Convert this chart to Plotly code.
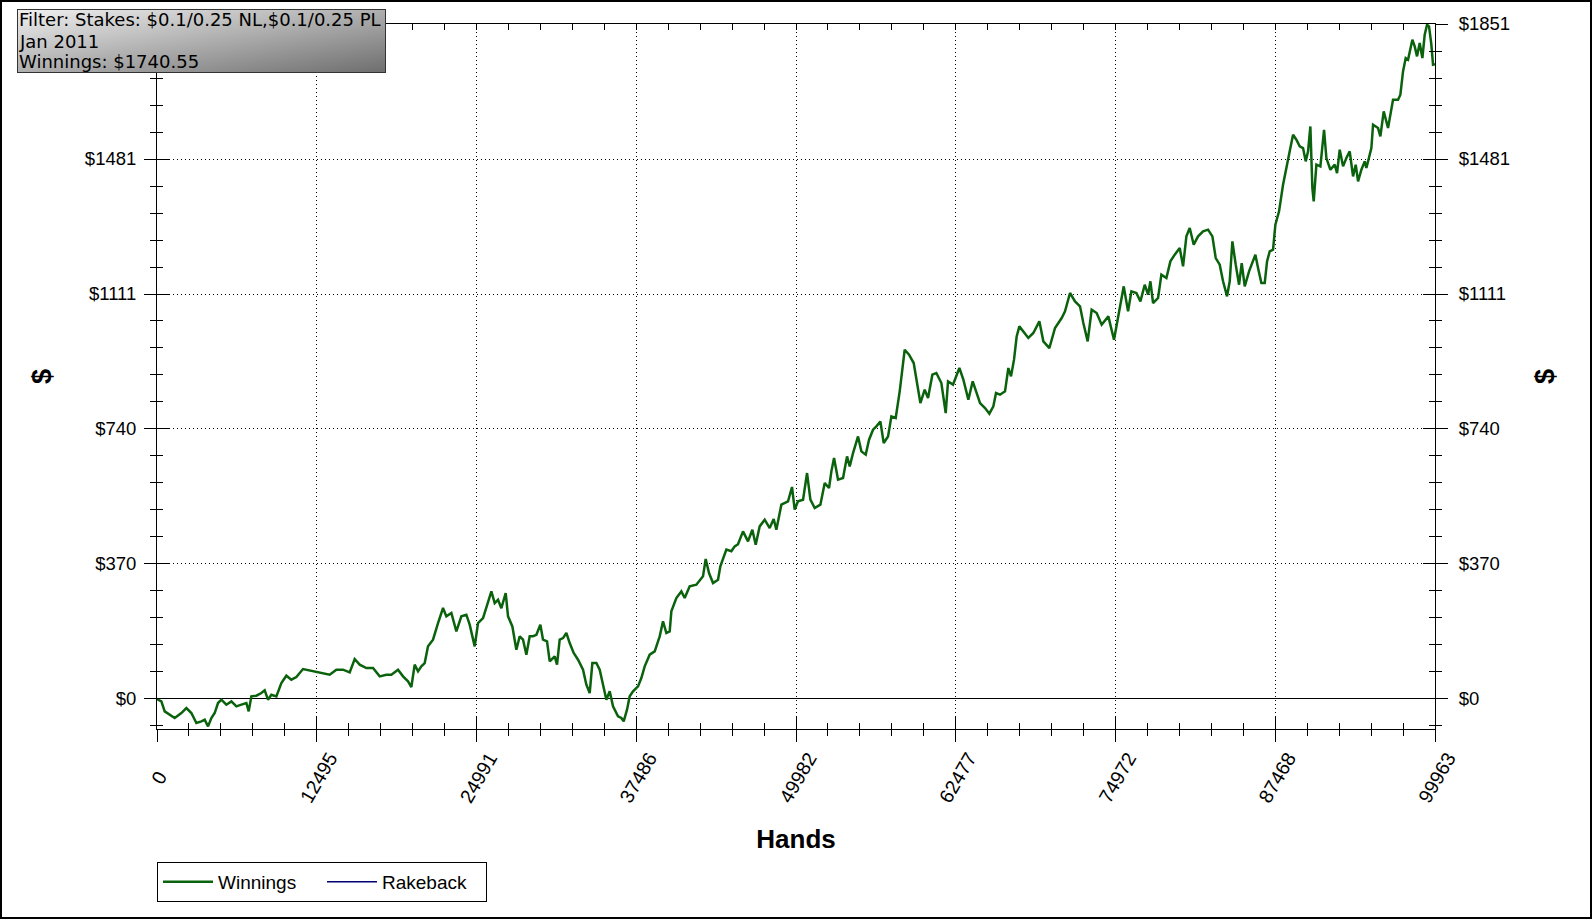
import base64
import plotly.graph_objects as go

# ---------------- data ----------------
hands = [
    0, 342, 602, 993, 1384, 1906, 2297, 2688, 3079, 3470, 3731, 3992, 4253, 4514, 4774, 5035,
    5426, 5817, 6208, 6599, 6990, 7172, 7381, 7772, 8163, 8423, 8684, 8945, 9336, 9727, 10118,
    10509, 10900, 11421, 11943, 12464, 12986, 13507, 14029, 14550, 15072, 15463, 15854, 16375,
    16897, 17418, 17940, 18331, 18852, 19243, 19634, 19895, 20156, 20417, 20678, 20938, 21199,
    21590, 21981, 22373, 22633, 23024, 23415, 23806, 24197, 24458, 24849, 25110,
    25502, 25893, 26154, 26414, 26675, 26936, 27275, 27457, 27796, 28109, 28370, 28630, 28891,
    29152, 29412, 29673, 29986, 30194, 30507, 30716, 31107, 31290, 31498, 31759, 32019, 32280,
    32593, 32932, 33323, 33584, 33844, 34053, 34366, 34627, 34887, 35148, 35409, 35669, 36060,
    36321, 36503, 36764, 36973, 37234, 37625, 37886, 38146, 38537, 38929, 39320, 39580, 39841,
    40102, 40232, 40623, 41014, 41275, 41666, 42187, 42708, 42917, 43178, 43491, 43882, 44064,
    44534, 44925, 45185, 45446, 45837, 46228, 46567, 46829, 47141, 47532, 47923, 48236, 48445,
    48836, 49357, 49670, 49879, 50140,
    50533, 50846, 51107, 51445, 51888, 52229, 52566, 52749, 52957, 53270, 53661, 53974, 54183,
    54443, 54834, 55095, 55434, 55695, 56008, 56268, 56581, 56842, 57181, 57442, 57780, 58093,
    58484, 58823, 59188, 59449, 59710, 60049, 60309, 60648, 60961, 61352, 61691, 61873, 62264,
    62759, 63072, 63463, 63802, 64115, 64376, 64767, 65106, 65418, 65627, 65940, 66331, 66591,
    66800, 67035, 67243, 67451, 67764, 68155, 68546, 69016, 69329, 69798, 70241, 70763, 71023,
    71414, 71805, 72196, 72457, 72796, 73108, 73499, 73890, 74412, 74855, 75194,
    75616, 75955, 76216, 76607, 76920, 77259, 77519, 77702, 77910, 78301, 78562, 78953, 79266,
    79605, 79996, 80257, 80517, 80778, 81091, 81430, 81821, 82212, 82551, 82812, 83124, 83385,
    83698, 83906, 84115, 84376, 84637, 84845, 85080, 85419, 85731, 85914, 86122, 86383, 86644,
    86826, 87035, 87296, 87478, 87765, 88077, 88338, 88599, 88860, 89120, 89381, 89642, 89850,
    90033, 90215, 90372, 90476, 90685, 90998, 91285, 91467, 91780, 92119, 92302, 92510, 92771,
    93032, 93292, 93553, 93762, 93944, 94205, 94466, 94596, 94987, 95117, 95508, 95690, 95951,
    96290, 96680, 97071, 97254, 97463, 97671, 97854, 98193, 98375, 98558, 98766, 98975, 99157,
    99340, 99496, 99679, 99809, 99963,
]

winnings = [
    0, -6.5, -33.9, -43.0, -52.2, -38.5, -24.8, -38.5, -65.9, -61.3, -56.8, -75.1, -52.2, -38.5,
    -11.0, -1.9, -15.6, -6.5, -20.2, -15.6, -11.0, -33.9, 7.2, 9.0, 16.4, 23.7, -1.9, 11.8, 7.2,
    43.8, 63.9, 52.9, 60.2, 82.2, 78.5, 75.8, 71.2, 66.6, 80.3, 80.3, 73.0, 109.6, 94.1, 84.9,
    84.9, 62.1, 66.6, 66.6, 80.3, 62.1, 48.4, 32.8, 94.1, 75.8, 89.5, 98.6, 144.3, 162.6, 208.3,
    249.5, 226.6, 235.7, 185.5, 226.6, 231.1, 203.7, 144.3, 208.3,
    222, 267.7, 295, 263, 272, 249, 290.6, 226.6, 199, 135, 172, 162.6, 121.4, 172, 172, 176,
    203.7, 162.6, 158, 103, 117, 94, 162.6, 167, 181, 153.4, 126, 107.7, 80.3, 39.3, 16.3, 98.6,
    98.6, 80.3, 34.6, -2.0, 21, -20.0, -47.4, -52.0, -61.2, -29.2, 7.2, 21, 34.6, 57.5, 89.5,
    121.5, 130.6, 171.7, 212.9, 181, 185.4, 240.3, 276.8, 295, 276.8, 308.8, 313.4, 336.3, 383.8,
    345.5, 318, 327.2, 363.8, 409.5, 405, 418.6, 424.3, 459.6, 432.3, 464.2, 423, 473.3, 491.6,
    468.7, 493.4, 464.2, 532.8, 542, 581.3, 519.4, 542,
    546.5, 619.6, 546.5, 523.7, 532.8, 592, 578.5, 624.2, 660.7, 601.4, 606, 665.3, 638, 674.5,
    720, 679, 670, 711, 738.4, 747.5, 761, 702, 720, 775, 770.5, 843.6, 957.8, 944.2, 921.3,
    866.4, 811.6, 848.2, 825.3, 889.3, 893.8, 866.4, 784, 871, 862, 907.6, 875.6, 820.8, 871, 839,
    811.6, 797.9, 782.4, 802.5, 839, 834.5, 843.6, 907.6, 884.8, 930.5, 994.4, 1021.8, 1008, 990,
    1003.6, 1035.6, 980.7, 962.4, 1017.3, 1044.7, 1063, 1113.3, 1090.4, 1076.7, 1031, 980.7,
    1067.5, 1058.4, 1026.4, 1049.3, 985.3, 1049.3,
    1131.6, 1063, 1117.8, 1113.3, 1090.4, 1136.1, 1108.7, 1145.3, 1085.9, 1099.6, 1163.6, 1154.4,
    1200.1, 1218.4, 1236.7, 1186.4, 1268.7, 1291.5, 1245.8, 1268.7, 1282.4, 1287, 1268.7, 1209.2,
    1191, 1145.3, 1104.2, 1145.3, 1254.9, 1191, 1136.1, 1195.5, 1131.6, 1172.7, 1204.7, 1218.4,
    1181.8, 1140.7, 1140.7, 1200.1, 1227.5, 1232.1, 1300.6, 1337.2, 1410.3, 1460.6, 1501.8,
    1547.4, 1533.7, 1515.4, 1510.9, 1474.3, 1501.8, 1570, 1401, 1364.5, 1465.2, 1460.6, 1561,
    1483.4, 1451.4, 1465.2, 1442.3, 1506.3, 1460.6, 1483.4, 1501.8, 1433.1, 1465.2, 1419.4,
    1451.4, 1474.3, 1456, 1510.9, 1574.8, 1565.7, 1542.8, 1611.4, 1565.7, 1643.4, 1643.4, 1657,
    1721, 1757.6, 1753, 1807.9, 1789.6, 1762.2, 1798.8, 1757.6, 1821.6, 1849, 1844.5, 1794.2,
    1739.3, 1740.55,
]

rakeback_hands = [None]
rakeback = [None]

x_tickvals = [0, 12495, 24991, 37486, 49982, 62477, 74972, 87468, 99963]
x_ticktext = ["0", "12495", "24991", "37486", "49982", "62477", "74972", "87468", "99963"]
y_tickvals = [0, 370.2, 740.4, 1110.6, 1480.8, 1851]
y_ticktext = ["$0", "$370", "$740", "$1111", "$1481", "$1851"]

info_lines = ["Filter: Stakes: $0.1/0.25 NL,$0.1/0.25 PL", "Jan 2011", "Winnings: $1740.55"]

# ---------------- figure ----------------
W, H = 1592, 919
L, R, T, B = 157, 157, 24, 190
pw, ph = W - L - R, H - T - B

X_RANGE = [0, 99963]
Y_RANGE = [-82.3, 1851]
X_MINOR = 99963 / 40
Y_MINOR = 1851 / 25

ARIAL = "Liberation Sans, Arial, sans-serif"
YTICKFONT = dict(family=ARIAL, size=18.5, color="black")
XTICKFONT = dict(family=ARIAL, size=19.5, color="black")

# rotated x labels are end-anchored; pad short ones (non-breaking spaces) so they
# sit below their tick like the original
x_ticktext_disp = [t + "\u00a0" * (5 - len(t)) for t in x_ticktext]
# the top-left label is hidden by the info box in the original
y_ticktext_left = y_ticktext[:-1] + [""]

fig = go.Figure()
fig.add_trace(go.Scatter(
    x=hands, y=winnings, mode="lines", name="Winnings",
    line=dict(color="#0b620d", width=2.5),
))
fig.add_trace(go.Scatter(
    x=rakeback_hands, y=rakeback, mode="lines", name="Rakeback",
    line=dict(color="#000070", width=1.5),
))
# empty carriers so the overlay (tick-only) axes are drawn
for xa, ya in [("x2", "y"), ("x3", "y"), ("x", "y2"), ("x", "y3"), ("x", "y4")]:
    fig.add_trace(go.Scatter(x=[None], y=[None], xaxis=xa, yaxis=ya, showlegend=False,
                             hoverinfo="skip", mode="lines"))

common_x = dict(range=X_RANGE, tickvals=x_tickvals, ticktext=x_ticktext_disp, tickcolor="black",
                tickwidth=1, fixedrange=True)
common_y = dict(range=Y_RANGE, tickvals=y_tickvals, ticktext=y_ticktext, tickcolor="black",
                tickwidth=1, fixedrange=True)
minor_x = lambda side, ln: dict(ticks=side, ticklen=ln, tick0=0, dtick=X_MINOR, tickcolor="black", showgrid=False)
minor_y = lambda side, ln: dict(ticks=side, ticklen=ln, tick0=0, dtick=Y_MINOR, tickcolor="black", showgrid=False)
YTITLE = dict(text="<b>$</b>", font=dict(family=ARIAL, size=27, color="black"), standoff=25)

fig.update_layout(
    width=W, height=H,
    margin=dict(l=L, r=R, t=T, b=B, pad=0),
    paper_bgcolor="white", plot_bgcolor="white",
    showlegend=True,
    xaxis=dict(
        **common_x, side="bottom", showline=True, linecolor="black", linewidth=1, mirror=True,
        ticks="outside", ticklen=12, minor=minor_x("outside", 6),
        showgrid=True, gridcolor="black", gridwidth=1, griddash="1px,3px",
        zeroline=False, tickangle=-60, tickfont=XTICKFONT,
        ticklabelstandoff=-3, ticklabelshift=13,
        title=dict(text="<b>Hands</b>", font=dict(family=ARIAL, size=26, color="black"), standoff=24),
    ),
    xaxis2=dict(
        **common_x, overlaying="x", anchor="y", side="bottom", showline=False,
        ticks="inside", ticklen=12, showticklabels=False, showgrid=False, zeroline=False,
        minor=minor_x("inside", 6),
    ),
    xaxis3=dict(
        **common_x, overlaying="x", anchor="y", side="top", showline=False,
        ticks="inside", ticklen=6, showticklabels=False, showgrid=False, zeroline=False,
        minor=minor_x("inside", 6),
    ),
    yaxis=dict(
        **{**common_y, "ticktext": y_ticktext_left}, side="left", showline=True, linecolor="black", linewidth=1,
        ticks="outside", ticklen=12, minor=minor_y("outside", 6),
        showgrid=True, gridcolor="black", gridwidth=1, griddash="1px,3px",
        zeroline=True, zerolinecolor="black", zerolinewidth=1,
        tickfont=YTICKFONT, ticklabelstandoff=4, title=YTITLE,
    ),
    yaxis2=dict(
        **common_y, overlaying="y", anchor="x", side="right", showline=True, linecolor="black", linewidth=1,
        ticks="outside", ticklen=12, minor=minor_y("outside", 6),
        showgrid=False, zeroline=False, tickfont=YTICKFONT, ticklabelstandoff=7, title=YTITLE,
    ),
    yaxis3=dict(
        **common_y, overlaying="y", anchor="x", side="left", showline=False,
        ticks="inside", ticklen=12, showticklabels=False, showgrid=False, zeroline=False,
        minor=minor_y("inside", 6),
    ),
    yaxis4=dict(
        **common_y, overlaying="y", anchor="x", side="right", showline=False,
        ticks="inside", ticklen=12, showticklabels=False, showgrid=False, zeroline=False,
        minor=minor_y("inside", 6),
    ),
    legend=dict(
        orientation="h", x=0, xanchor="left", y=-(862 - (T + ph)) / ph, yanchor="top",
        bordercolor="black", borderwidth=1, bgcolor="white",
        font=dict(family=ARIAL, size=19, color="black"),
        entrywidth=99, itemwidth=50, tracegroupgap=0,
    ),
)

# whole-image border
fig.add_shape(type="rect", xref="paper", yref="paper",
              x0=(1 - L) / pw, x1=(W - 1 - L) / pw,
              y0=-(H - 1 - (T + ph)) / ph, y1=(T + ph - 1) / ph,
              line=dict(color="black", width=2), fillcolor="rgba(0,0,0,0)", layer="above")

# info box with gradient background
bx0, by0, bw, bh = 17, 9, 369, 64
svg = (
    f'<svg xmlns="http://www.w3.org/2000/svg" width="{bw}" height="{bh}" viewBox="0 0 {bw} {bh}" preserveAspectRatio="none">'
    '<defs><linearGradient id="g" x1="0" y1="0" x2="1" y2="1">'
    '<stop offset="0" stop-color="#f0f0f0"/><stop offset="1" stop-color="#6e6e6e"/>'
    '</linearGradient></defs>'
    f'<rect x="0.5" y="0.5" width="{bw-1}" height="{bh-1}" fill="url(#g)" stroke="#333333" stroke-width="1"/>'
    '</svg>'
)
src = "data:image/svg+xml;base64," + base64.b64encode(svg.encode()).decode()
fig.add_layout_image(dict(
    source=src, xref="paper", yref="paper",
    x=(bx0 - L) / pw, y=(T + ph - by0) / ph,
    sizex=bw / pw, sizey=bh / ph, sizing="stretch",
    xanchor="left", yanchor="top", layer="above",
))
line_centers = [20, 41, 62]
for txt, cy in zip(info_lines, line_centers):
    fig.add_annotation(
        xref="paper", yref="paper", x=(bx0 + 1 - L) / pw, y=(T + ph - cy) / ph,
        xanchor="left", yanchor="middle", align="left", showarrow=False,
        text=txt, borderpad=0,
        font=dict(family="DejaVu Sans, Verdana, sans-serif", size=18, color="black"),
    )

fig.write_html("out.html", config={"displayModeBar": False},
               post_script="document.body.style.margin='0px';")
